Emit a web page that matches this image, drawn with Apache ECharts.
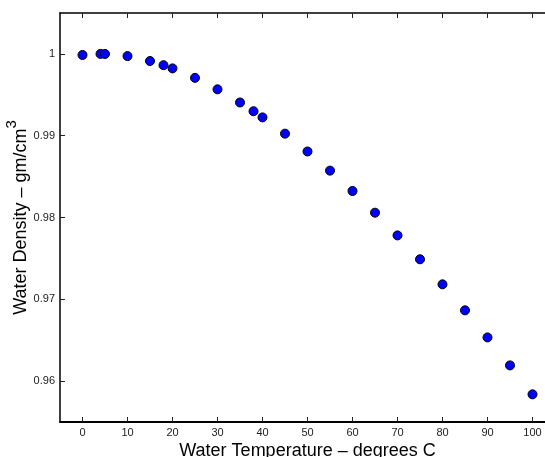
<!DOCTYPE html>
<html>
<head>
<meta charset="utf-8">
<script src="https://cdn.jsdelivr.net/npm/echarts@6/dist/echarts.min.js"></script>
<style>html,body{margin:0;padding:0;background:#fff;}#c{width:545px;height:457px;}</style>
</head>
<body>
<div id="c"></div>
<script>
const temperatures = [0, 4, 5, 10, 15, 18, 20, 25, 30, 35, 38, 40, 45, 50, 55, 60, 65, 70, 75, 80, 85, 90, 95, 100];
const densities = [0.99987, 1.00000, 0.99999, 0.99973, 0.99913, 0.99862, 0.99823, 0.99707, 0.99567, 0.99406, 0.99299, 0.99224, 0.99025, 0.98807, 0.98573, 0.98324, 0.98059, 0.97781, 0.97489, 0.97183, 0.96865, 0.96534, 0.96192, 0.95838];
const xTicks = [0, 10, 20, 30, 40, 50, 60, 70, 80, 90, 100];
const yTicks = [0.96, 0.97, 0.98, 0.99, 1];
const xTitle = 'Water Temperature \u2013 degrees C';
const yTitleMain = 'Water Density \u2013 gm/cm';
const yTitleSup = '3';

const chart = echarts.init(document.getElementById('c'), null, {renderer: 'canvas'});
const font = '"Liberation Sans", Arial, sans-serif';
const pts = temperatures.map((t, i) => [t, densities[i]]);
chart.setOption({
  animation: false,
  backgroundColor: '#fff',
  grid: {left: 60, top: 13, width: 495, height: 409, containLabel: false, outerBoundsMode: 'none'},
  xAxis: [{
    type: 'value', min: -5, max: 105, interval: 5, position: 'bottom',
    axisLine: {show: true, onZero: false, lineStyle: {color: '#000', width: 2}},
    axisTick: {show: true, inside: true, length: 5, lineStyle: {color: '#222', width: 1},
      customValues: xTicks},
    axisLabel: {show: true, color: '#222', fontFamily: font, fontSize: 11, margin: 5,
      customValues: xTicks, formatter: v => String(v)},
    splitLine: {show: false},
    name: xTitle, nameLocation: 'middle', nameGap: 20, nameMoveOverlap: false,
    nameTextStyle: {fontFamily: font, fontSize: 18, color: '#000'}
  }, {
    type: 'value', min: -5, max: 105, interval: 5, position: 'top',
    axisLine: {show: true, onZero: false, lineStyle: {color: '#000', width: 1.5}},
    axisTick: {show: true, inside: true, length: 5, lineStyle: {color: '#222', width: 1},
      customValues: xTicks},
    axisLabel: {show: false},
    splitLine: {show: false}
  }],
  yAxis: [{
    type: 'value', min: 0.955, max: 1.005, interval: 0.005, position: 'left',
    axisLine: {show: true, onZero: false, lineStyle: {color: '#000', width: 1.5}},
    axisTick: {show: true, inside: true, length: 5, lineStyle: {color: '#222', width: 1},
      customValues: yTicks},
    axisLabel: {show: true, color: '#222', fontFamily: font, fontSize: 11, margin: 5,
      customValues: yTicks, formatter: v => String(+v.toFixed(3))},
    splitLine: {show: false},
    name: '{m|' + yTitleMain + '}{s|' + yTitleSup + '}', nameLocation: 'middle', nameGap: 30, nameRotate: 90,
    nameMoveOverlap: false,
    nameTextStyle: {fontFamily: font, fontSize: 18, color: '#000',
      rich: {
        m: {fontFamily: font, fontSize: 18, color: '#000', lineHeight: 26, verticalAlign: 'bottom'},
        s: {fontFamily: font, fontSize: 15, color: '#000', lineHeight: 26, verticalAlign: 'top'}
      }}
  }],
  series: [{
    type: 'scatter', xAxisIndex: 0, yAxisIndex: 0,
    data: pts, symbol: 'circle', symbolSize: 9,
    itemStyle: {color: '#0000ff', borderColor: '#000', borderWidth: 1, opacity: 1}
  }]
});
</script>
</body>
</html>
